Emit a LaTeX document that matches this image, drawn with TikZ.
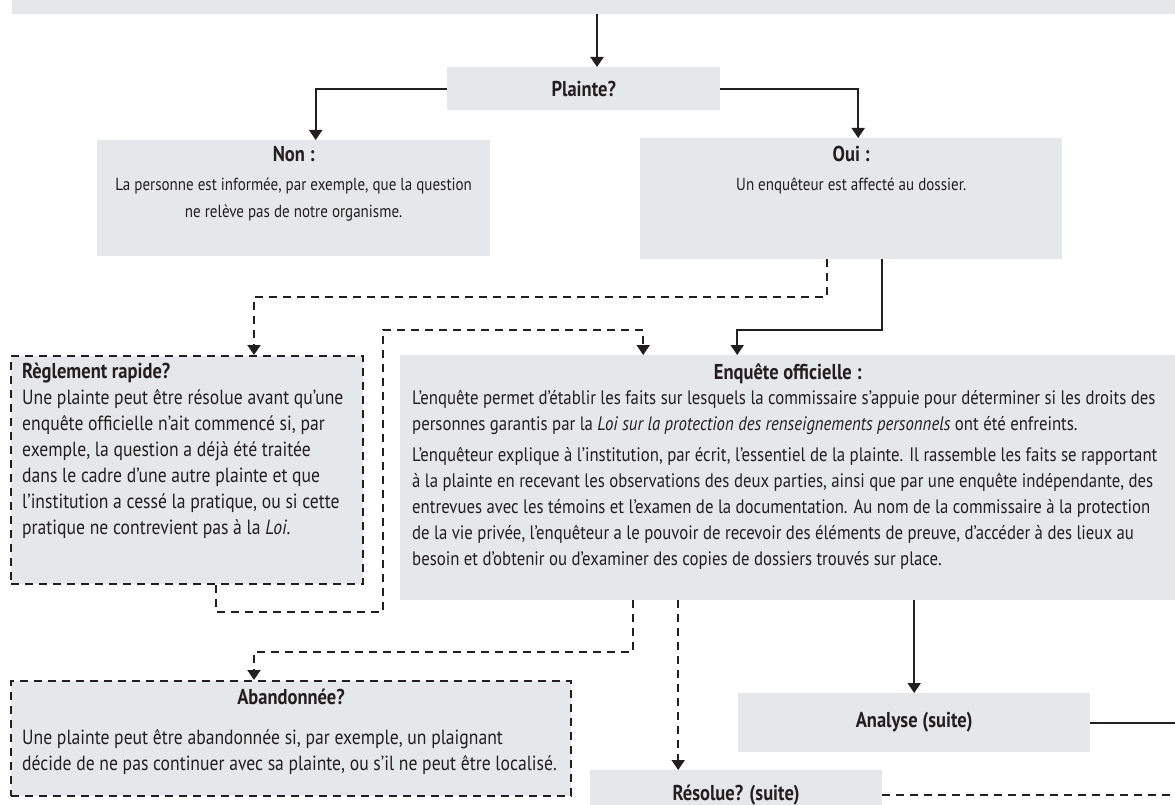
\documentclass[tikz,border=0pt]{standalone}
\usepackage{fontspec}
\setmainfont{PT Sans}[FakeStretch=0.86]
\usetikzlibrary{positioning}
\usetikzlibrary{arrows.meta}
\usepackage{xcolor}
\definecolor{boxgray}{HTML}{E6E7E8}
\definecolor{ink}{HTML}{231F20}
\newcommand{\hd}[1]{{\fontsize{21.5}{26}\selectfont\bfseries #1}}

\begin{document}
\begin{tikzpicture}[x=1pt,y=-1pt,
    graybox/.style={fill=boxgray, inner sep=0pt, anchor=north west},
    dashbox/.style={graybox, draw=ink, line width=2pt, dash pattern=on 8pt off 6pt},
    body/.style={inner sep=0pt, text=ink, font=\fontsize{19.5}{26}\selectfont},
    wide/.style={body, font=\fontsize{20.5}{26}\selectfont},
    small/.style={body, font=\fontsize{17.5}{27}\selectfont},
    flow/.style={draw=ink, line width=2pt, -{Triangle[width=13pt,length=10pt]}},
    dflow/.style={flow, dash pattern=on 8pt off 6pt},
    tail/.style={draw=ink, line width=2pt}]
    \useasboundingbox (0,0) rectangle (1175,805);

    % boxes
    \node[graybox, minimum width=1185pt, minimum height=24pt] (start) at (12,-10) {};
    \node[graybox, minimum width=273pt, minimum height=43pt, text=ink] (plainte) at (447,67) {\hd{Plainte?}};
    \node[graybox, minimum width=393pt, minimum height=116pt] (non) at (97,140) {};
    \node[graybox, minimum width=422pt, minimum height=121pt] (oui) at (640,138) {};
    \node[dashbox, minimum width=352pt, minimum height=228pt] (reglement) at (10,355) {};
    \node[graybox, minimum width=785pt, minimum height=245pt] (enquete) at (400,355) {};
    \node[dashbox, minimum width=560pt, minimum height=115pt] (abandon) at (10,680) {};
    \node[graybox, minimum width=352pt, minimum height=59pt, text=ink] (analyse) at (738,693) {\hd{Analyse (suite)}};
    \node[graybox, minimum width=292pt, minimum height=50pt, text=ink] (resolue) at (590,770) {\hd{Résolue? (suite)}};

    % texts
    \node[small, align=center, anchor=north] (nontxt) at ([yshift=-6pt]non.north) {\hd{Non :}\\[2pt]La personne est informée, par exemple, que la question\\ne relève pas de notre organisme.};
    \node[small, align=center, anchor=north] (ouitxt) at ([yshift=-8pt]oui.north) {\hd{Oui :}\\[2pt]Un enquêteur est affecté au dossier.};
    \node[wide, align=left, anchor=north west] (regtxt) at ([xshift=12pt,yshift=-8pt]reglement.north west) {\hd{Règlement rapide?}\\Une plainte peut être résolue avant qu’une\\enquête officielle n’ait commencé si, par\\exemple, la question a déjà été traitée\\dans le cadre d’une autre plainte et que\\l’institution a cessé la pratique, ou si cette\\pratique ne contrevient pas à la \textit{Loi}.};
    \node[body, anchor=north] (enqtitle) at ([xshift=-5pt,yshift=-9pt]enquete.north) {\hd{Enquête officielle :}};
    \node[body, align=left, anchor=north west] (enqtxt) at ([xshift=12pt,yshift=-35pt]enquete.north west) {L’enquête permet d’établir les faits sur lesquels la commissaire s’appuie pour déterminer si les droits des\\personnes garantis par la \textit{Loi sur la protection des renseignements personnels} ont été enfreints.\\[5pt]L’enquêteur explique à l’institution, par écrit, l’essentiel de la plainte. Il rassemble les faits se rapportant\\à la plainte en recevant les observations des deux parties, ainsi que par une enquête indépendante, des\\entrevues avec les témoins et l’examen de la documentation. Au nom de la commissaire à la protection\\de la vie privée, l’enquêteur a le pouvoir de recevoir des éléments de preuve, d’accéder à des lieux au\\besoin et d’obtenir ou d’examiner des copies de dossiers trouvés sur place.};
    \node[body, anchor=north] (abtitle) at ([yshift=-9pt]abandon.north) {\hd{Abandonnée?}};
    \node[wide, align=left, anchor=north west] (abtxt) at ([xshift=12pt,yshift=-49pt]abandon.north west) {Une plainte peut être abandonnée si, par exemple, un plaignant\\décide de ne pas continuer avec sa plainte, ou s’il ne peut être localisé.};

    % connectors
    \coordinate (jog) at (383,612);
    \coordinate (jogtop) at (383,330);
    \draw[flow] (start.south -| 597,0) -- (plainte.north -| 597,0);
    \draw[flow] (plainte.west) -| ([xshift=22pt]non.north);
    \draw[flow] (plainte.east) -| ([xshift=7pt]oui.north);
    \draw[dflow] ([xshift=-24pt]oui.south) -- ++(0,38) -| ([xshift=67pt]reglement.north);
    \draw[flow] ([xshift=31pt]oui.south) -- ++(0,71) -| ([xshift=-55.5pt]enquete.north);
    \draw[dflow] ([xshift=29pt]reglement.south) |- (jog) -- (jogtop) -| ([xshift=-149.5pt]enquete.north);
    \draw[dflow] ([xshift=-159.5pt]enquete.south) -- ++(0,52) -| ([xshift=-37pt]abandon.north);
    \draw[dflow] ([xshift=-114.5pt]enquete.south) -- ([xshift=-58pt]resolue.north);
    \draw[flow] (enquete.south -| analyse.north) -- (analyse.north);
    \draw[tail] (analyse.east) -- ++(100,0);
    \draw[tail, dash pattern=on 8pt off 6pt] (resolue.east) -- ++(300,0);
\end{tikzpicture}
\end{document}
